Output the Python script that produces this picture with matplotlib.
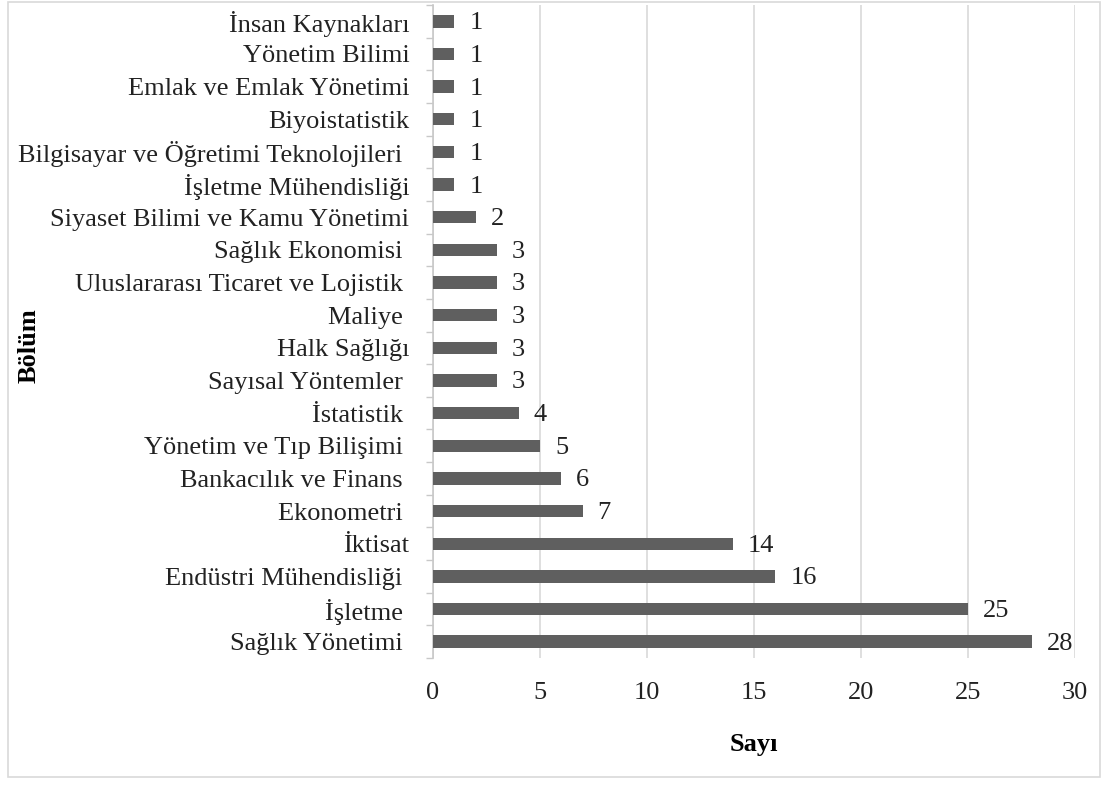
import matplotlib.pyplot as plt
from matplotlib.patches import Rectangle
import numpy as np

# department names (top to bottom) and counts
bolumler = [
    "İnsan Kaynakları",
    "Yönetim Bilimi",
    "Emlak ve Emlak Yönetimi",
    "Biyoistatistik",
    "Bilgisayar ve Öğretimi Teknolojileri ",
    "İşletme Mühendisliği",
    "Siyaset Bilimi ve Kamu Yönetimi",
    "Sağlık Ekonomisi ",
    "Uluslararası Ticaret ve Lojistik ",
    "Maliye ",
    "Halk Sağlığı",
    "Sayısal Yöntemler ",
    "İstatistik ",
    "Yönetim ve Tıp Bilişimi ",
    "Bankacılık ve Finans ",
    "Ekonometri ",
    "İktisat",
    "Endüstri Mühendisliği ",
    "İşletme ",
    "Sağlık Yönetimi ",
]
sayilar = [1, 1, 1, 1, 1, 1, 2, 3, 3, 3, 3, 3, 4, 5, 6, 7, 14, 16, 25, 28]
x_ticks = [0, 5, 10, 15, 20, 25, 30]

plt.rcParams['font.family'] = ['Liberation Serif', 'DejaVu Serif']
fs = 19

fig = plt.figure(figsize=(11.09, 7.85), dpi=100)
ax = fig.add_axes([0.3904, 0.1618, 0.5789, 0.8318])

y = np.arange(len(bolumler))
ax.barh(y, sayilar, height=0.38, color='#5f5f5f', zorder=3)
for yi, v in zip(y, sayilar):
    ax.text(v + 0.7, yi + 0.06, str(v), va='center', ha='left', fontsize=fs, color='#222222')

ax.set_ylim(len(bolumler) - 0.5, -0.5)
ax.set_xlim(0, 30)
ax.set_yticks(y)
ax.set_yticklabels(bolumler, fontsize=fs, color='#222222')
ax.set_yticks(np.arange(-0.5, len(bolumler)), minor=True)
ax.tick_params(axis='y', which='major', length=0, pad=17)
ax.tick_params(axis='y', which='minor', length=5, color='#c8c8c8', width=1)
ax.set_xticks(x_ticks)
ax.set_xticklabels([str(t) for t in x_ticks], fontsize=fs, color='#222222')
ax.tick_params(axis='x', length=0, pad=17)

ax.grid(axis='x', color='#d9d9d9', linewidth=1.2, zorder=0)
for s in ['top', 'right', 'bottom']:
    ax.spines[s].set_visible(False)
ax.spines['left'].set_color('#c8c8c8')
ax.spines['left'].set_linewidth(1.2)

ax.set_xlabel("Sayı", fontsize=fs, fontweight='bold', labelpad=21)
fig.text(0.026, 0.56, "Bölüm", rotation=90, fontsize=fs, fontweight='bold',
         ha='center', va='center')

# light frame around the whole chart
fig.patches.append(Rectangle((8 / 1109, 8 / 785), 1092 / 1109, 775 / 785,
                             transform=fig.transFigure, fill=False,
                             edgecolor='#d9d9d9', linewidth=1.2))

fig.savefig("out.png", dpi=100, facecolor='white')
